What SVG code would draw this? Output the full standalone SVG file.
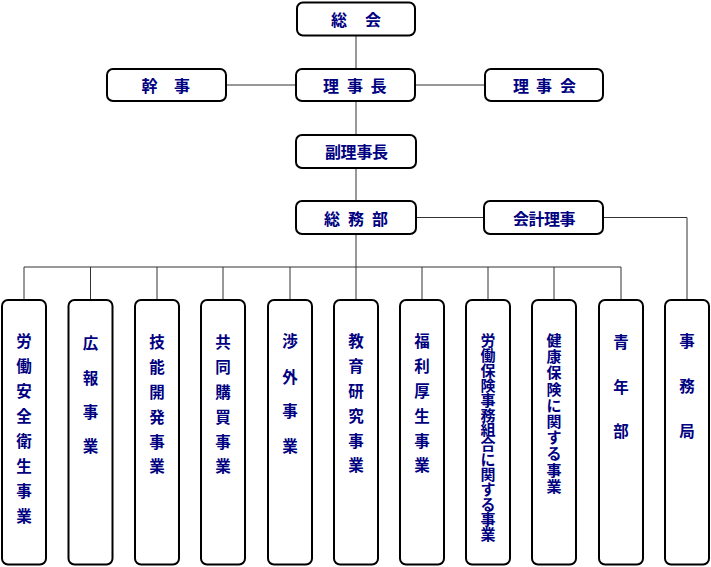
<svg xmlns="http://www.w3.org/2000/svg" width="711" height="567" viewBox="0 0 711 567">
<style>
.box{fill:#fff;stroke:#000;stroke-width:2}
.ln{fill:none;stroke:#333;stroke-width:1}
text{font-family:"Noto Sans CJK JP","Noto Sans CJK SC",sans-serif;font-size:16px;font-weight:bold;fill:#000080;text-anchor:middle;dominant-baseline:central}
.v{font-size:15.5px}
.d{font-size:15px}
</style>
<rect width="711" height="567" fill="#fff"/>
<g id="connectors">
<path class="ln" d="M356,35V69M226,85H296M415,85H485M356,101V135M356,168V201M416,217.5H484M603,217.5H687V300M356,234V300M24,267H621"/>
<path class="ln" d="M24,267V300M90.5,267V300M157,267V300M223,267V300M290,267V300M422,267V300M488,267V300M554,267V300M621,267V300"/>
</g>
<g id="soukai"><rect class="box" x="297" y="2.5" width="118" height="33" rx="6"/><text x="339 373" y="18.5">総会</text></g>
<g id="kanji"><rect class="box" x="107" y="69" width="119" height="32" rx="6"/><text x="149.5 182" y="85">幹事</text></g>
<g id="rijicho"><rect class="box" x="296" y="69" width="119" height="32" rx="6"/><text x="331 355 378.5" y="85">理事長</text></g>
<g id="rijikai"><rect class="box" x="485" y="69" width="118" height="32" rx="6"/><text x="521 544 568" y="85">理事会</text></g>
<g id="fukurijicho"><rect class="box" x="296" y="135" width="120" height="33" rx="6"/><text x="333 348.5 364.5 380" y="151">副理事長</text></g>
<g id="somubu"><rect class="box" x="296" y="201" width="120" height="33" rx="6"/><text x="332 356 380" y="217.5">総務部</text></g>
<g id="kaikeiriji"><rect class="box" x="484" y="201" width="119" height="33" rx="6"/><text x="521 536.5 552 567.5" y="217.5">会計理事</text></g>
<g id="c1"><rect class="box" x="2" y="300" width="44" height="264.5" rx="6"/><text class="v" x="24 24 24 24 24 24 24 24" y="340 365 390 415 440 465 490 515">労働安全衛生事業</text></g>
<g id="c2"><rect class="box" x="68.5" y="300" width="44" height="264.5" rx="6"/><text class="v" x="90.5 90.5 90.5 90.5" y="342 376.5 411 445">広報事業</text></g>
<g id="c3"><rect class="box" x="135" y="300" width="44" height="264.5" rx="6"/><text class="v" x="157 157 157 157 157 157" y="341 366 391 416 441 465">技能開発事業</text></g>
<g id="c4"><rect class="box" x="201" y="300" width="44" height="264.5" rx="6"/><text class="v" x="223 223 223 223 223 223" y="341 366 391 416 441 465">共同購買事業</text></g>
<g id="c5"><rect class="box" x="268" y="300" width="44" height="264.5" rx="6"/><text class="v" x="290 290 290 290" y="340 375.5 410 444.5">渉外事業</text></g>
<g id="c6"><rect class="box" x="334" y="300" width="44" height="264.5" rx="6"/><text class="v" x="356 356 356 356 356 356" y="340 365 390 415 440 464">教育研究事業</text></g>
<g id="c7"><rect class="box" x="400" y="300" width="44" height="264.5" rx="6"/><text class="v" x="422 422 422 422 422 422" y="340 365 390 415 440 464">福利厚生事業</text></g>
<g id="c8"><rect class="box" x="466" y="300" width="44" height="264.5" rx="6"/><text class="d" x="488 488 488 488 488 488 488 488 488 488 488 488 488 488" y="339.5 354.4 369.3 384.2 399.1 414 428.9 443.8 458.7 473.6 488.5 503.4 518.3 533.2">労働保険事務組合に関する事業</text></g>
<g id="c9"><rect class="box" x="532" y="300" width="44" height="264.5" rx="6"/><text class="d" x="554 554 554 554 554 554 554 554 554 554" y="339.5 355.7 371.9 388.1 404.3 420.5 436.7 452.9 469.1 485.3">健康保険に関する事業</text></g>
<g id="c10"><rect class="box" x="599" y="300" width="44" height="264.5" rx="6"/><text class="v" x="621 621 621" y="341 385.5 430">青年部</text></g>
<g id="c11"><rect class="box" x="665" y="300" width="44" height="264.5" rx="6"/><text class="v" x="687 687 687" y="340 385 430">事務局</text></g>
</svg>
